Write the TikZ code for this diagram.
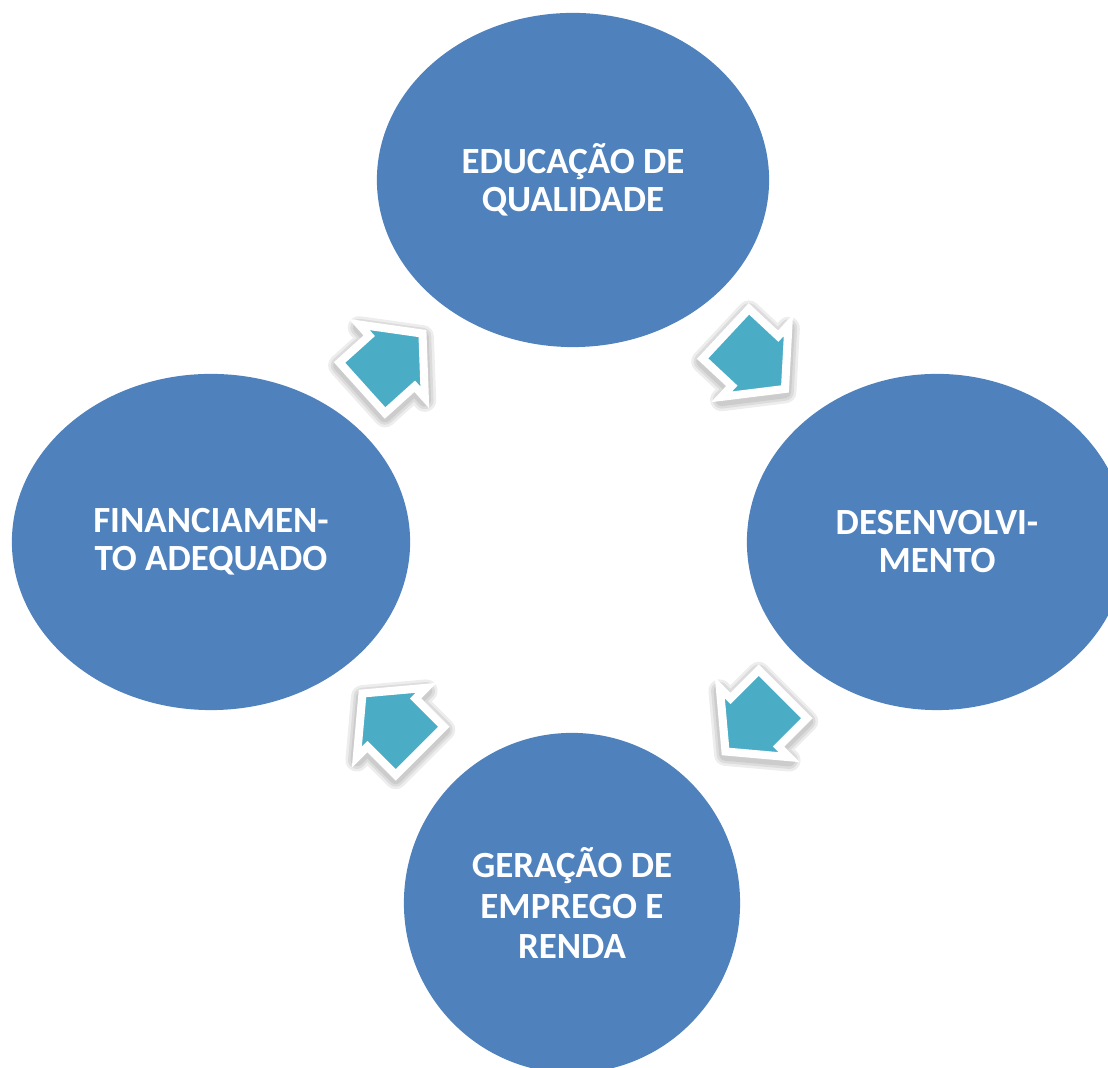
\documentclass[tikz,border=0pt]{standalone}
\usepackage{fontspec}
\setmainfont{Carlito}
\usetikzlibrary{shapes.geometric}
\usetikzlibrary{calc}

\definecolor{azul}{HTML}{4F81BD}
\definecolor{turquesa}{HTML}{4BACC6}

\tikzset{
  circulo/.style={ellipse, fill=azul, inner sep=0pt, text=white, align=center,
    font=\fontsize{10.5}{10.8}\selectfont\bfseries},
  seta/.style={fill=turquesa, draw=white, line width=2.3pt, line join=miter},
  sombra/.style={fill=black, draw=black, line join=round}
}

\begin{document}
\begin{tikzpicture}[x=0.01cm,y=-0.01cm]
  \useasboundingbox (0,0) rectangle (1108,1068);
  \clip (0,0) rectangle (1108,1068);

  % circulos
  \node[circulo, minimum width=3.92cm, minimum height=3.34cm] (edu) at (573,180) {EDUCAÇÃO DE\\QUALIDADE};
  \node[circulo, minimum width=3.80cm, minimum height=3.36cm] (desenv) at (937,542) {DESENVOLVI-\\MENTO};
  \node[circulo, minimum width=3.36cm, minimum height=3.40cm, font=\fontsize{10.5}{11.6}\selectfont\bfseries] (emprego) at (572,903) {GERAÇÃO DE\\EMPREGO E\\RENDA};
  \node[circulo, minimum width=3.98cm, minimum height=3.36cm] (financ) at (211,542) {FINANCIAMEN-\\TO ADEQUADO};

  % setas entre os circulos
  \foreach \a/\b/\ang in {financ/edu/42,edu/desenv/-43,desenv/emprego/-135,emprego/financ/135}
  {
    % sombra (tres camadas)
    \foreach \lw in {6.5pt,5pt,3.6pt}
    {
      \begin{scope}[transparency group, opacity=0.07]
        \draw[sombra, line width=\lw, shift={($(\a)!0.5!(\b)+(0,3)$)}, rotate=\ang]
          (-40,-34) -- (0,-34) -- (0,-49) -- (41,0) -- (0,49) -- (0,34) -- (-40,34) -- cycle;
      \end{scope}
    }
    % seta
    \draw[seta, shift={($(\a)!0.5!(\b)$)}, rotate=\ang]
      (-40,-34) -- (0,-34) -- (0,-49) -- (41,0) -- (0,49) -- (0,34) -- (-40,34) -- cycle;
  }
\end{tikzpicture}
\end{document}
